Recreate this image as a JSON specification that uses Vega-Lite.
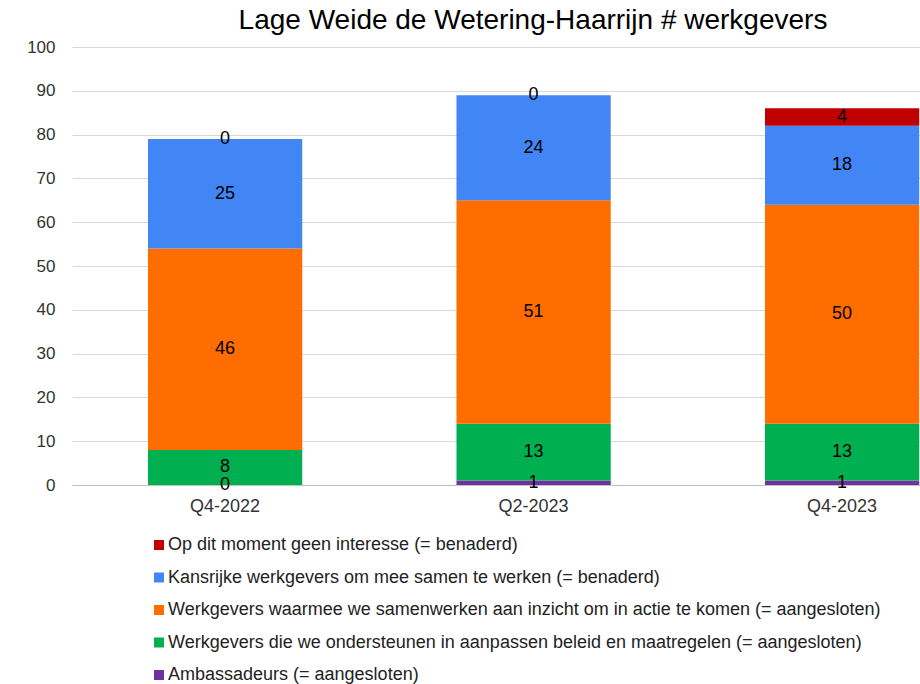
{
  "$schema": "https://vega.github.io/schema/vega-lite/v6.json",
  "width": 848,
  "height": 438,
  "padding": {"left": 0, "top": 7, "right": 0, "bottom": 0},
  "background": "white",
  "title": {
    "text": "Lage Weide de Wetering-Haarrijn # werkgevers",
    "fontSize": 28,
    "font": "Liberation Sans",
    "fontWeight": "normal",
    "color": "#000000",
    "anchor": "middle",
    "dx": 37,
    "offset": 3
  },
  "config": {
    "font": "Liberation Sans",
    "view": {"stroke": null}
  },
  "data": {
    "values": [
      {"kwartaal": "Q4-2022", "categorie": "Ambassadeurs (= aangesloten)", "aantal": 0},
      {"kwartaal": "Q4-2022", "categorie": "Werkgevers die we ondersteunen in aanpassen beleid en maatregelen (= aangesloten)", "aantal": 8},
      {"kwartaal": "Q4-2022", "categorie": "Werkgevers waarmee we samenwerken aan inzicht om in actie te komen (= aangesloten)", "aantal": 46},
      {"kwartaal": "Q4-2022", "categorie": "Kansrijke werkgevers om mee samen te werken (= benaderd)", "aantal": 25},
      {"kwartaal": "Q4-2022", "categorie": "Op dit moment geen interesse (= benaderd)", "aantal": 0},
      {"kwartaal": "Q2-2023", "categorie": "Ambassadeurs (= aangesloten)", "aantal": 1},
      {"kwartaal": "Q2-2023", "categorie": "Werkgevers die we ondersteunen in aanpassen beleid en maatregelen (= aangesloten)", "aantal": 13},
      {"kwartaal": "Q2-2023", "categorie": "Werkgevers waarmee we samenwerken aan inzicht om in actie te komen (= aangesloten)", "aantal": 51},
      {"kwartaal": "Q2-2023", "categorie": "Kansrijke werkgevers om mee samen te werken (= benaderd)", "aantal": 24},
      {"kwartaal": "Q2-2023", "categorie": "Op dit moment geen interesse (= benaderd)", "aantal": 0},
      {"kwartaal": "Q4-2023", "categorie": "Ambassadeurs (= aangesloten)", "aantal": 1},
      {"kwartaal": "Q4-2023", "categorie": "Werkgevers die we ondersteunen in aanpassen beleid en maatregelen (= aangesloten)", "aantal": 13},
      {"kwartaal": "Q4-2023", "categorie": "Werkgevers waarmee we samenwerken aan inzicht om in actie te komen (= aangesloten)", "aantal": 50},
      {"kwartaal": "Q4-2023", "categorie": "Kansrijke werkgevers om mee samen te werken (= benaderd)", "aantal": 18},
      {"kwartaal": "Q4-2023", "categorie": "Op dit moment geen interesse (= benaderd)", "aantal": 4}
    ]
  },
  "transform": [
    {"calculate": "indexof(['Ambassadeurs (= aangesloten)', 'Werkgevers die we ondersteunen in aanpassen beleid en maatregelen (= aangesloten)', 'Werkgevers waarmee we samenwerken aan inzicht om in actie te komen (= aangesloten)', 'Kansrijke werkgevers om mee samen te werken (= benaderd)', 'Op dit moment geen interesse (= benaderd)'], datum.categorie)", "as": "volgorde"},
    {"stack": "aantal", "groupby": ["kwartaal"], "sort": [{"field": "volgorde", "order": "ascending"}], "as": ["y0", "y1"]},
    {"calculate": "(datum.y0 + datum.y1) / 2", "as": "ymid"}
  ],
  "encoding": {
    "x": {
      "field": "kwartaal",
      "type": "nominal",
      "sort": ["Q4-2022", "Q2-2023", "Q4-2023"],
      "scale": {"paddingInner": 0.5, "paddingOuter": 0.1244, "align": 0.99},
      "axis": {
        "title": null,
        "labelAngle": 0,
        "ticks": false,
        "domainColor": "#bfbfbf",
        "labelPadding": 12,
        "labelFontSize": 18,
        "labelColor": "#333333",
        "labelFont": "Liberation Sans"
      }
    }
  },
  "layer": [
    {
      "mark": {"type": "bar"},
      "encoding": {
        "y": {
          "field": "y0",
          "type": "quantitative",
          "scale": {"domain": [0, 100], "nice": false},
          "axis": {
            "title": null,
            "values": [0, 10, 20, 30, 40, 50, 60, 70, 80, 90, 100],
            "ticks": false,
            "domain": false,
            "gridColor": "#d9d9d9",
            "labelFontSize": 17,
            "labelColor": "#333333",
            "labelFont": "Liberation Sans",
            "labelPadding": 17,
            "minExtent": 72,
            "maxExtent": 72
          }
        },
        "y2": {"field": "y1"},
        "color": {
          "field": "categorie",
          "type": "nominal",
          "scale": {
            "domain": [
              "Op dit moment geen interesse (= benaderd)",
              "Kansrijke werkgevers om mee samen te werken (= benaderd)",
              "Werkgevers waarmee we samenwerken aan inzicht om in actie te komen (= aangesloten)",
              "Werkgevers die we ondersteunen in aanpassen beleid en maatregelen (= aangesloten)",
              "Ambassadeurs (= aangesloten)"
            ],
            "range": ["#c00000", "#4285f4", "#ff6d01", "#00b050", "#7030a0"]
          },
          "legend": {
            "title": null,
            "orient": "none",
            "legendX": 78,
            "legendY": 489,
            "direction": "vertical",
            "symbolType": "square",
            "symbolSize": 100,
            "symbolStrokeWidth": 0,
            "labelFontSize": 18,
            "labelFont": "Liberation Sans",
            "labelColor": "#222222",
            "labelOffset": 0,
            "labelLimit": 900,
            "rowPadding": 14.5,
            "padding": 0
          }
        }
      }
    },
    {
      "mark": {"type": "text", "fontSize": 18, "color": "#000000", "font": "Liberation Sans", "baseline": "middle", "align": "center"},
      "encoding": {
        "y": {"field": "ymid", "type": "quantitative"},
        "text": {"field": "aantal", "type": "quantitative"}
      }
    }
  ]
}
